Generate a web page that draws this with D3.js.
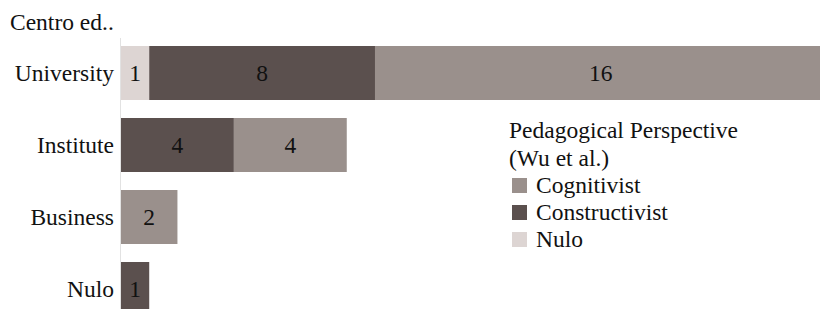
<!DOCTYPE html>
<html>
<head>
<meta charset="utf-8">
<script src="https://cdn.jsdelivr.net/npm/d3@7"></script>
<style>
  body { margin: 0; background: #fff; }
  svg { display: block; }
</style>
</head>
<body>
<svg id="chart" width="820" height="309"></svg>
<script>
var centers = ["University", "Institute", "Business", "Nulo"];
var perspectives = ["Nulo", "Constructivist", "Cognitivist"];
var nuloVals = [1, 0, 0, 0];
var constructivistVals = [8, 4, 0, 1];
var cognitivistVals = [16, 4, 2, 0];
var legendOrder = ["Cognitivist", "Constructivist", "Nulo"];

var rows = centers.map(function(c, i) {
  return { center: c, Nulo: nuloVals[i], Constructivist: constructivistVals[i], Cognitivist: cognitivistVals[i] };
});

var svg = d3.select("#chart");
var fs = "23.5px";
var ff = "'Liberation Serif', 'Times New Roman', serif";

var x = d3.scaleLinear().domain([0, 25]).range([121, 826.5]);
var y = d3.scaleBand().domain(centers).range([37, 325]).paddingInner(0.25).paddingOuter(0.125);

var color = d3.scaleOrdinal()
  .domain(perspectives)
  .range(["#ddd5d3", "#5b504e", "#9a908c"]);

var series = d3.stack().keys(perspectives)(rows);

// axis line
svg.append("line")
  .attr("x1", 120.5).attr("x2", 120.5)
  .attr("y1", 38).attr("y2", 309)
  .attr("stroke", "#e2e2e2").attr("stroke-width", 1);

var layer = svg.selectAll(".layer")
  .data(series)
  .enter().append("g")
  .attr("class", "layer")
  .attr("fill", function(d) { return color(d.key); });

layer.selectAll("rect")
  .data(function(d) { return d.filter(function(s) { return s[1] - s[0] > 0; }); })
  .enter().append("rect")
  .attr("x", function(d) { return x(d[0]); })
  .attr("width", function(d) { return x(d[1]) - x(d[0]); })
  .attr("y", function(d) { return y(d.data.center); })
  .attr("height", y.bandwidth());

layer.selectAll("text")
  .data(function(d) { return d.filter(function(s) { return s[1] - s[0] > 0; }); })
  .enter().append("text")
  .attr("x", function(d) { return (x(d[0]) + x(d[1])) / 2; })
  .attr("y", function(d) { return y(d.data.center) + y.bandwidth() / 2; })
  .attr("dy", "0.33em")
  .attr("text-anchor", "middle")
  .style("font-family", ff)
  .style("font-size", fs)
  .attr("fill", "#111")
  .text(function(d) { return d[1] - d[0]; });

// category labels
svg.selectAll(".cat")
  .data(centers)
  .enter().append("text")
  .attr("class", "cat")
  .attr("x", 114)
  .attr("y", function(d) { return y(d) + y.bandwidth() / 2; })
  .attr("dy", "0.33em")
  .attr("text-anchor", "end")
  .style("font-family", ff)
  .style("font-size", fs)
  .attr("fill", "#111")
  .text(function(d) { return d; });

svg.append("text")
  .attr("x", 10).attr("y", 30)
  .style("font-family", ff)
  .style("font-size", fs)
  .attr("fill", "#111")
  .text("Centro ed..");

// legend
var lg = svg.append("g").attr("transform", "translate(509,0)");
lg.append("text").attr("x", 0).attr("y", 138)
  .style("font-family", ff).style("font-size", fs).attr("fill", "#111")
  .text("Pedagogical Perspective");
lg.append("text").attr("x", 0).attr("y", 166)
  .style("font-family", ff).style("font-size", fs).attr("fill", "#111")
  .text("(Wu et al.)");

var item = lg.selectAll(".item")
  .data(legendOrder)
  .enter().append("g")
  .attr("class", "item")
  .attr("transform", function(d, i) { return "translate(0," + (185.5 + i * 27) + ")"; });

item.append("rect")
  .attr("x", 3).attr("y", -7.5)
  .attr("width", 15).attr("height", 15)
  .attr("fill", function(d) { return color(d); });

item.append("text")
  .attr("x", 27).attr("y", 0)
  .attr("dy", "0.3em")
  .style("font-family", ff)
  .style("font-size", fs)
  .attr("fill", "#111")
  .text(function(d) { return d; });
</script>
</body>
</html>
